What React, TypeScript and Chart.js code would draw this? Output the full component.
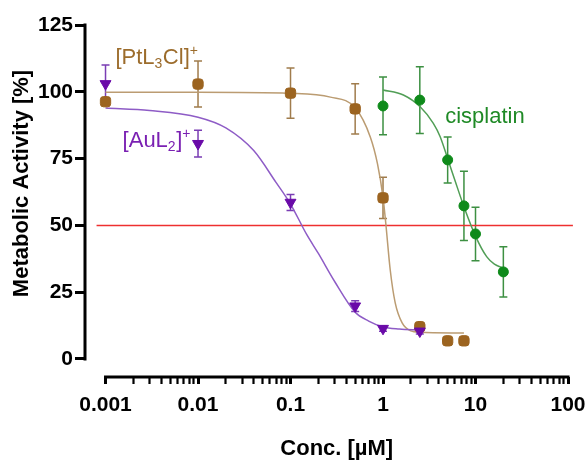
import React, { useEffect, useRef } from 'react';
import { Chart, registerables } from 'chart.js';

Chart.register(...registerables);

// ---------- data ----------
const CONC_AU = [0.001, 0.01, 0.1, 0.5, 1, 2.5];
const ACT_AU = [103.0, 80.6, 58.6, 19.8, 11.4, 10.4];
const ERR_AU = [7, 5, 3, 2, 1, 1];

const CONC_PT = [0.001, 0.01, 0.1, 0.5, 1, 2.5, 5, 7.5];
const ACT_PT = [96.3, 102.9, 99.5, 93.6, 60.3, 12.1, 6.8, 6.8];
const ERR_PT = [1.5, 8.6, 9.4, 9.4, 7.7, 1, 0.5, 0.5];

const CONC_CIS = [1, 2.5, 5, 7.5, 10, 20];
const ACT_CIS = [94.7, 96.9, 74.5, 57.3, 46.8, 32.6];
const ERR_CIS = [10.8, 12.5, 8.6, 13, 10, 9.4];

// fitted curves, points
const FIT_AU_X = [0.001, 0.003, 0.01, 0.02, 0.04, 0.07, 0.1, 0.15, 0.2, 0.3, 0.5, 0.7, 1, 1.5, 2.5];
const FIT_AU_Y = [93.9, 93.0, 90.5, 86.5, 78, 66, 58, 46.5, 39.5, 29, 17.5, 14.2, 12, 11.2, 10.8];

const FIT_PT_X = [0.001, 0.01, 0.1, 0.27, 0.5, 0.73, 0.872, 1.0, 1.07, 1.197, 1.355, 1.61, 2.0, 2.5, 7.5];
const FIT_PT_Y = [99.8, 99.8, 99.4, 98, 94, 83, 73, 60.5, 51, 33.3, 21, 13.5, 10.5, 10, 9.7];

const FIT_CIS_X = [1, 1.66, 2.52, 3.5, 4.15, 5, 6, 7.5, 10, 13.2, 16, 20];
const FIT_CIS_Y = [100.7, 98.8, 94.4, 88.2, 83.2, 75, 66.8, 57, 46, 38.3, 35.5, 34];

const REF_LINE_X = [0.0008, 113];
const REF_LINE_Y = [50, 50];

// axes
const X_MIN = 0.000608;
const X_MAX = 100;
const Y_MIN = -6.74;
const Y_MAX = 125;
const Y_TICKS = [0, 25, 50, 75, 100, 125];
const X_DECADES = [0.001, 0.01, 0.1, 1, 10, 100];
const X_DECADE_LABELS = ['0.001', '0.01', '0.1', '1', '10', '100'];
const X_MINOR_MULT = [2, 3, 4, 5, 6, 7, 8, 9];

const X_TITLE = 'Conc. [µM]';
const Y_TITLE = 'Metabolic Activity [%]';

// annotation labels (anchored in data units)
const LABEL_PT = { x: 0.00128, y: 110.4 };
const LABEL_AU = { x: 0.00153, y: 79.3 };
const LABEL_CIS = { x: 4.7, y: 88.4 };

const FONT = "'Liberation Sans', Arial, Helvetica, sans-serif";

const C_AU = '#6a0aa8';
const C_AU_LINE = '#8e5cc6';
const C_AU_ERR = '#7a3db4';
const C_AU_TEXT = '#7a20b2';
const C_PT = '#9c6420';
const C_PT_LINE = '#bb9c72';
const C_PT_ERR = '#a07c4c';
const C_PT_TEXT = '#9c6c2c';
const C_CIS = '#0e8a1a';
const C_CIS_LINE = '#519e56';
const C_CIS_ERR = '#3d9042';
const C_CIS_TEXT = '#1f8a26';
const C_REF = '#ee3030';

const xy = (xs: number[], ys: number[]) => xs.map((x, i) => ({ x, y: ys[i] }));

const xTickValues: number[] = [];
X_DECADES.forEach((d, i) => {
  xTickValues.push(d);
  if (i < X_DECADES.length - 1) X_MINOR_MULT.forEach((m) => xTickValues.push(m * d));
});

const isDecade = (v: number) => {
  const l = Math.log10(v);
  return Math.abs(l - Math.round(l)) < 1e-6;
};

const errorBarPlugin = {
  id: 'errorBars',
  beforeDatasetsDraw(chart: any) {
    const { ctx } = chart;
    const xs = chart.scales.x;
    const ys = chart.scales.y;
    const sets: [number[], number[], number[], string][] = [
      [CONC_AU, ACT_AU, ERR_AU, C_AU_ERR],
      [CONC_PT, ACT_PT, ERR_PT, C_PT_ERR],
      [CONC_CIS, ACT_CIS, ERR_CIS, C_CIS_ERR],
    ];
    ctx.save();
    ctx.lineWidth = 1.5;
    sets.forEach(([cx, cy, ce, col]) => {
      ctx.strokeStyle = col;
      cx.forEach((c, i) => {
        const px = xs.getPixelForValue(c);
        const t = ys.getPixelForValue(cy[i] + ce[i]);
        const b = ys.getPixelForValue(cy[i] - ce[i]);
        ctx.beginPath();
        ctx.moveTo(px, t);
        ctx.lineTo(px, b);
        ctx.moveTo(px - 4, t);
        ctx.lineTo(px + 4, t);
        ctx.moveTo(px - 4, b);
        ctx.lineTo(px + 4, b);
        ctx.stroke();
      });
    });
    ctx.restore();
  },
};

type Seg = { t: string; k: 'n' | 'sub' | 'sup' };
const drawRich = (ctx: CanvasRenderingContext2D, segs: Seg[], x: number, y: number, color: string) => {
  let cx = x;
  ctx.fillStyle = color;
  ctx.textBaseline = 'alphabetic';
  ctx.textAlign = 'left';
  segs.forEach((s) => {
    const size = s.k === 'n' ? 22 : 14;
    const dy = s.k === 'sub' ? 4 : s.k === 'sup' ? -9 : 0;
    ctx.font = `${size}px ${FONT}`;
    ctx.fillText(s.t, cx, y + dy);
    cx += ctx.measureText(s.t).width + (s.k === 'n' ? 0 : 0.5);
  });
};

const overlayPlugin = {
  id: 'overlay',
  afterDraw(chart: any) {
    const { ctx, chartArea } = chart;
    const xs = chart.scales.x;
    const ys = chart.scales.y;
    ctx.save();
    // axis lines
    ctx.strokeStyle = '#000';
    ctx.lineWidth = 3;
    ctx.beginPath();
    ctx.moveTo(chartArea.left, ys.getPixelForValue(Y_TICKS[0]) + 1.5);
    ctx.lineTo(chartArea.left, ys.getPixelForValue(Y_TICKS[Y_TICKS.length - 1]) - 1.5);
    ctx.stroke();
    ctx.beginPath();
    ctx.moveTo(xs.getPixelForValue(X_DECADES[0]) - 1.5, chartArea.bottom);
    ctx.lineTo(xs.getPixelForValue(X_DECADES[X_DECADES.length - 1]) + 1.5, chartArea.bottom);
    ctx.stroke();

    // axis titles
    ctx.fillStyle = '#000';
    ctx.font = `bold 22px ${FONT}`;
    ctx.textAlign = 'center';
    ctx.textBaseline = 'middle';
    const xMid = (xs.getPixelForValue(X_DECADES[0]) + xs.getPixelForValue(X_DECADES[X_DECADES.length - 1])) / 2;
    ctx.fillText(X_TITLE, xMid, chartArea.bottom + 72);
    ctx.save();
    ctx.translate(22, ys.getPixelForValue(62.5) - 8.5);
    ctx.rotate(-Math.PI / 2);
    ctx.fillText(Y_TITLE, 0, 0);
    ctx.restore();

    // annotations
    drawRich(
      ctx,
      [
        { t: '[PtL', k: 'n' },
        { t: '3', k: 'sub' },
        { t: 'Cl]', k: 'n' },
        { t: '+', k: 'sup' },
      ],
      xs.getPixelForValue(LABEL_PT.x),
      ys.getPixelForValue(LABEL_PT.y),
      C_PT_TEXT
    );
    drawRich(
      ctx,
      [
        { t: '[AuL', k: 'n' },
        { t: '2', k: 'sub' },
        { t: ']', k: 'n' },
        { t: '+', k: 'sup' },
      ],
      xs.getPixelForValue(LABEL_AU.x),
      ys.getPixelForValue(LABEL_AU.y),
      C_AU_TEXT
    );
    drawRich(ctx, [{ t: 'cisplatin', k: 'n' }], xs.getPixelForValue(LABEL_CIS.x), ys.getPixelForValue(LABEL_CIS.y), C_CIS_TEXT);
    ctx.restore();
  },
};

export default function App() {
  const ref = useRef<HTMLCanvasElement | null>(null);
  useEffect(() => {
    document.body.style.margin = '0';
    const canvas = ref.current;
    if (!canvas) return;
    const curve = (xs: number[], ys: number[], color: string) => ({
      type: 'line' as const,
      data: xy(xs, ys),
      borderColor: color,
      borderWidth: 1.5,
      pointRadius: 0,
      fill: false,
      cubicInterpolationMode: 'monotone' as const,
      showLine: true,
    });
    const chart = new Chart(canvas, {
      type: 'scatter',
      data: {
        datasets: [
          {
            data: xy(CONC_AU, ACT_AU),
            pointStyle: 'triangle',
            rotation: 180,
            pointRadius: 6.3,
            backgroundColor: C_AU,
            borderColor: C_AU,
            borderWidth: 1,
          } as any,
          {
            data: xy(CONC_PT, ACT_PT),
            pointStyle: 'rectRounded',
            pointRadius: 6,
            backgroundColor: C_PT,
            borderColor: C_PT,
            borderWidth: 1,
          },
          {
            data: xy(CONC_CIS, ACT_CIS),
            pointStyle: 'circle',
            pointRadius: 5,
            backgroundColor: C_CIS,
            borderColor: C_CIS,
            borderWidth: 1,
          },
          curve(FIT_AU_X, FIT_AU_Y, C_AU_LINE),
          curve(FIT_PT_X, FIT_PT_Y, C_PT_LINE),
          curve(FIT_CIS_X, FIT_CIS_Y, C_CIS_LINE),
          {
            type: 'line',
            data: xy(REF_LINE_X, REF_LINE_Y),
            borderColor: C_REF,
            backgroundColor: C_REF,
            borderWidth: 1.5,
            pointRadius: 0,
            clip: false,
          } as any,
        ],
      },
      options: {
        responsive: false,
        animation: false,
        events: [],
        layout: { padding: { top: 25, right: 18, left: 0, bottom: 0 } },
        plugins: { legend: { display: false }, tooltip: { enabled: false } },
        scales: {
          x: {
            type: 'logarithmic',
            position: 'bottom',
            min: X_MIN,
            max: X_MAX,
            afterBuildTicks: (s: any) => {
              s.ticks = xTickValues.map((v) => ({ value: v, major: isDecade(v) }));
            },
            afterFit: (s: any) => {
              s.height = 85;
              s.paddingLeft = 0;
              s.paddingRight = 0;
            },
            ticks: {
              autoSkip: false,
              maxRotation: 0,
              minRotation: 0,
              padding: 9,
              color: '#000',
              font: { family: FONT, size: 21, weight: 'bold' },
              callback: (v: any) => {
                const n = Number(v);
                if (!isDecade(n)) return '';
                const idx = X_DECADES.findIndex((d) => Math.abs(Math.log10(d) - Math.log10(n)) < 1e-6);
                return idx >= 0 ? X_DECADE_LABELS[idx] : '';
              },
            },
            grid: {
              display: true,
              drawOnChartArea: false,
              drawTicks: true,
              tickLength: 7,
              tickColor: '#000',
              tickWidth: (c: any) => (c.tick && isDecade(c.tick.value) ? 3 : 2.2),
            },
            border: { display: false },
          },
          y: {
            type: 'linear',
            min: Y_MIN,
            max: Y_MAX,
            afterBuildTicks: (s: any) => {
              s.ticks = Y_TICKS.map((v) => ({ value: v }));
            },
            afterFit: (s: any) => {
              s.width = 85;
              s.paddingTop = 0;
              s.paddingBottom = 0;
            },
            ticks: {
              autoSkip: false,
              padding: 2,
              color: '#000',
              font: { family: FONT, size: 21, weight: 'bold' },
              callback: (v: any) => String(v),
            },
            grid: {
              display: true,
              drawOnChartArea: false,
              drawTicks: true,
              tickLength: 10,
              tickColor: '#000',
              tickWidth: 3,
            },
            border: { display: false },
          },
        },
      } as any,
      plugins: [errorBarPlugin, overlayPlugin],
    });
    return () => chart.destroy();
  }, []);
  return (
    <div style={{ position: 'absolute', left: 0, top: 0, width: 586, height: 462, background: '#fff' }}>
      <canvas ref={ref} width={586} height={462} />
    </div>
  );
}
